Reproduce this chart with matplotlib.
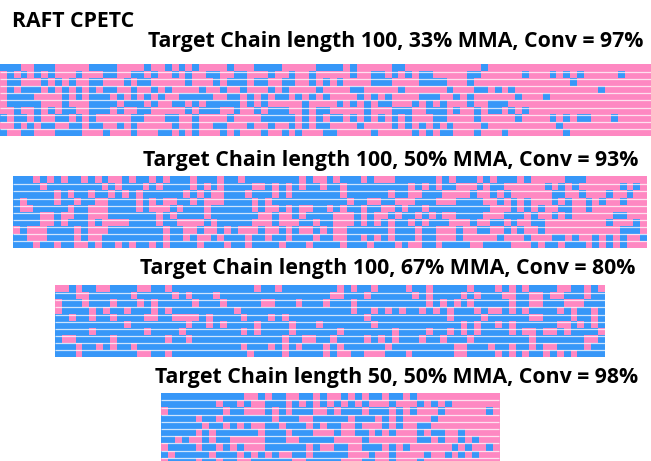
import numpy as np
import matplotlib
matplotlib.use("Agg")
import matplotlib.pyplot as plt
from matplotlib.colors import ListedColormap

# b = MMA (blue), p = comonomer (pink); run lengths along each chain
chains_100_33 = [
    "b3 p2 b3 p5 b4 p4 b1 p2 b1 p1 b1 p1 b1 p4 b1 p3 b4 p5 b4 p1 b1 p5 b2 p11 b1 p24",
    "p1 b1 p1 b1 p1 b1 p1 b1 p3 b1 p3 b2 p2 b2 p1 b1 p2 b1 p1 b1 p2 b2 p2 b2 p3 b1 p2 b1 p2 b1 p5 b1 p2 b2 p1 b1 p1 b1 p1 b2 p5 b2 p6 b1 p3 b1 p1 b1 p1 b1 p5 b1 p4",
    "p1 b2 p3 b1 p1 b1 p1 b1 p2 b2 p3 b1 p1 b2 p5 b1 p3 b1 p1 b3 p1 b2 p2 b2 p2 b1 p1 b1 p1 b1 p4 b3 p4 b4 p3 b1 p14 b1 p11",
    "p1 b1 p1 b3 p1 b1 p1 b1 p1 b1 p1 b1 p1 b2 p2 b1 p2 b1 p1 b1 p4 b1 p2 b1 p2 b1 p3 b1 p1 b1 p4 b1 p4 b2 p5 b1 p6 b1 p3 b2 p1 b1 p1 b1 p12 b1 p7",
    "p1 b4 p4 b1 p1 b1 p1 b3 p1 b1 p1 b1 p1 b1 p1 b1 p2 b5 p2 b2 p1 b1 p1 b1 p1 b2 p1 b1 p1 b1 p1 b1 p4 b1 p1 b1 p1 b1 p4 b3 p2 b1 p1 b1 p6 b1 p3 b1 p15",
    "p1 b5 p3 b1 p3 b4 p1 b3 p1 b1 p2 b2 p1 b1 p1 b5 p1 b1 p1 b1 p5 b1 p4 b1 p1 b1 p1 b1 p1 b2 p3 b1 p1 b1 p1 b1 p3 b1 p2 b3 p21",
    "p2 b1 p2 b1 p1 b1 p1 b2 p2 b3 p1 b1 p2 b2 p5 b1 p1 b3 p2 b1 p2 b1 p1 b3 p2 b1 p1 b2 p5 b1 p3 b3 p2 b3 p1 b1 p2 b1 p1 b2 p1 b1 p1 b1 p18",
    "b1 p1 b2 p1 b1 p2 b2 p1 b1 p1 b1 p5 b2 p3 b2 p2 b1 p4 b1 p4 b5 p1 b1 p1 b1 p1 b2 p1 b1 p1 b1 p1 b1 p1 b1 p1 b1 p3 b2 p4 b1 p5 b1 p4 b1 p1 b1 p1 b2 p3 b1 p5",
    "p2 b1 p1 b1 p1 b2 p2 b2 p1 b2 p2 b1 p1 b1 p5 b1 p2 b1 p2 b2 p3 b1 p2 b1 p2 b1 p1 b1 p1 b2 p4 b1 p4 b1 p1 b1 p1 b1 p1 b1 p1 b1 p4 b1 p10 b1 p13",
    "b1 p2 b2 p3 b4 p3 b1 p3 b1 p3 b2 p1 b1 p1 b1 p3 b1 p1 b1 p3 b1 p2 b1 p1 b1 p3 b2 p5 b1 p5 b1 p1 b1 p1 b2 p3 b1 p3 b1 p8 b1 p12",
]

chains_100_50 = [
    "b3 p1 b1 p1 b1 p1 b2 p1 b1 p1 b1 p2 b1 p1 b2 p1 b1 p1 b3 p1 b3 p1 b2 p1 b8 p1 b1 p2 b1 p1 b3 p1 b1 p3 b6 p1 b1 p1 b3 p1 b1 p1 b3 p1 b1 p5 b3 p9",
    "b4 p1 b8 p1 b1 p1 b3 p1 b1 p1 b4 p1 b1 p1 b1 p1 b4 p2 b1 p1 b1 p1 b1 p1 b2 p1 b2 p1 b9 p1 b1 p1 b1 p1 b2 p3 b1 p1 b2 p6 b1 p1 b1 p1 b1 p6 b1 p1 b1 p1",
    "b6 p1 b1 p1 b2 p1 b2 p1 b1 p1 b1 p1 b6 p1 b1 p1 b1 p2 b3 p1 b3 p1 b1 p1 b7 p1 b6 p1 b2 p2 b3 p4 b1 p2 b1 p1 b1 p6 b2 p2 b1 p3 b1 p2 b1 p2",
    "b1 p1 b4 p1 b2 p1 b2 p2 b4 p1 b1 p1 b1 p2 b2 p1 b1 p3 b4 p1 b1 p1 b11 p1 b2 p2 b2 p3 b3 p3 b4 p2 b1 p1 b1 p1 b1 p3 b1 p1 b1 p2 b1 p1 b1 p2 b1 p3",
    "b1 p2 b5 p1 b2 p3 b4 p1 b1 p3 b1 p1 b3 p1 b6 p1 b1 p2 b1 p1 b1 p2 b2 p1 b1 p1 b2 p1 b2 p2 b1 p1 b2 p1 b9 p3 b1 p1 b1 p1 b1 p2 b2 p2 b1 p8",
    "b4 p2 b1 p2 b2 p3 b7 p1 b1 p1 b4 p1 b7 p2 b1 p2 b1 p1 b4 p3 b1 p1 b1 p2 b1 p1 b2 p1 b1 p1 b1 p2 b4 p3 b3 p1 b1 p2 b1 p1 b1 p6 b2 p3",
    "b4 p2 b1 p1 b3 p1 b1 p4 b4 p1 b2 p4 b1 p1 b5 p3 b1 p3 b2 p1 b2 p3 b1 p1 b1 p1 b1 p1 b2 p1 b1 p1 b3 p3 b1 p2 b2 p1 b1 p2 b2 p9 b1 p3 b1 p1",
    "p1 b1 p3 b4 p1 b1 p3 b8 p1 b2 p2 b1 p2 b1 p1 b1 p3 b1 p2 b1 p1 b1 p2 b1 p1 b1 p2 b6 p1 b3 p1 b2 p3 b1 p2 b2 p2 b1 p1 b1 p2 b1 p11 b3 p1",
    "b2 p3 b4 p1 b1 p2 b9 p1 b2 p1 b1 p2 b1 p1 b3 p1 b2 p1 b2 p1 b3 p1 b2 p2 b2 p1 b1 p1 b1 p1 b3 p1 b2 p3 b1 p5 b1 p3 b1 p3 b2 p1 b1 p2 b1 p1 b1 p1 b1 p2 b1",
    "b3 p1 b2 p1 b2 p2 b1 p1 b2 p1 b1 p1 b2 p1 b1 p1 b4 p1 b3 p1 b2 p1 b4 p1 b3 p1 b4 p1 b3 p1 b3 p1 b1 p2 b2 p1 b4 p2 b4 p3 b1 p1 b2 p1 b3 p1 b1 p1 b1 p1 b1 p3",
]

chains_100_67 = [
    "p2 b1 p1 b2 p2 b4 p2 b2 p1 b12 p1 b2 p1 b8 p1 b1 p1 b2 p1 b4 p1 b2 p1 b5 p1 b3 p1 b1 p1 b1 p1 b4 p2 b2 p1 b1 p1",
    "b3 p2 b6 p1 b5 p1 b1 p1 b3 p1 b16 p2 b3 p1 b6 p1 b1 p1 b4 p1 b1 p1 b3 p2 b2 p2 b1 p2 b3 p1 b2",
    "p1 b3 p1 b3 p1 b3 p1 b1 p1 b5 p1 b3 p1 b5 p2 b3 p1 b3 p1 b3 p1 b10 p1 b1 p1 b1 p1 b1 p1 b5 p1 b2 p2 b3 p3 b3",
    "p1 b4 p1 b1 p1 b2 p1 b3 p1 b1 p1 b9 p1 b16 p1 b2 p1 b1 p1 b1 p1 b2 p1 b1 p1 b1 p1 b3 p1 b1 p2 b1 p1 b1 p1 b4 p1 b1 p1 b2 p1 b1",
    "b2 p1 b2 p1 b2 p1 b4 p2 b2 p4 b1 p1 b4 p1 b3 p1 b1 p1 b11 p1 b11 p1 b4 p1 b6 p2 b4 p1 b2 p1 b1",
    "b10 p1 b8 p1 b2 p1 b1 p1 b4 p1 b4 p1 b3 p1 b7 p1 b12 p1 b1 p1 b2 p1 b1 p1 b6 p2 b1 p1 b1 p1 b1",
    "b5 p1 b7 p1 b4 p1 b8 p1 b1 p1 b4 p1 b6 p1 b7 p1 b4 p1 b2 p1 b1 p1 b1 p1 b4 p1 b1 p2 b1 p2 b1 p1 b4 p1",
    "b1 p2 b5 p1 b7 p1 b2 p1 b13 p1 b2 p2 b2 p1 b4 p1 b1 p1 b1 p1 b3 p1 b2 p1 b3 p1 b8 p1 b7 p2 b1",
    "b3 p1 b2 p1 b1 p1 b2 p1 b15 p1 b3 p1 b1 p1 b1 p1 b3 p1 b1 p1 b6 p1 b9 p2 b3 p1 b2 p1 b2 p1 b1 p2 b4 p1 b2",
    "b3 p1 b8 p2 b2 p1 b11 p1 b4 p1 b5 p1 b1 p2 b2 p3 b3 p1 b6 p2 b4 p1 b1 p1 b1 p1 b2 p1 b1 p1 b1 p1 b4",
]

chains_50_50 = [
    "b12 p2 b1 p1 b2 p2 b2 p1 b1 p2 b1 p1 b1 p1 b2 p1 b2 p1 b1 p12",
    "b8 p1 b2 p1 b1 p2 b3 p1 b1 p1 b1 p1 b1 p1 b1 p1 b1 p1 b1 p3 b1 p3 b1 p1 b1 p1 b1 p7",
    "p1 b8 p1 b2 p3 b1 p1 b1 p1 b3 p2 b1 p1 b3 p1 b3 p1 b1 p1 b1 p3 b1 p6 b1 p1",
    "b5 p1 b2 p1 b7 p1 b3 p2 b5 p1 b3 p1 b1 p1 b1 p4 b1 p9",
    "b6 p1 b2 p1 b1 p1 b1 p2 b2 p1 b3 p1 b1 p1 b2 p2 b1 p3 b1 p1 b1 p2 b2 p10",
    "b5 p1 b1 p1 b6 p1 b3 p1 b3 p3 b1 p2 b2 p1 b1 p1 b1 p3 b1 p1 b2 p2 b1 p5",
    "b2 p1 b1 p2 b1 p1 b2 p5 b3 p2 b5 p4 b1 p7 b2 p1 b1 p2 b1 p1 b1 p3",
    "p1 b4 p1 b2 p1 b1 p1 b1 p3 b6 p1 b1 p2 b2 p2 b3 p1 b1 p1 b1 p6 b1 p1 b1 p2 b1 p1",
    "b1 p1 b5 p1 b3 p1 b1 p1 b1 p1 b1 p2 b2 p1 b5 p3 b1 p2 b1 p4 b1 p2 b1 p1 b1 p1 b1 p3",
    "p1 b4 p1 b2 p1 b2 p2 b6 p2 b5 p3 b2 p2 b1 p3 b1 p11",
]

titles = [
    "Target Chain length 100, 33% MMA, Conv = 97%",
    "Target Chain length 100, 50% MMA, Conv = 93%",
    "Target Chain length 100, 67% MMA, Conv = 80%",
    "Target Chain length 50, 50% MMA, Conv = 98%",
]

BLUE = "#3797f8"
PINK = "#fe88c2"


def decode(row):
    out = []
    for tok in row.split():
        out += [1 if tok[0] == "b" else 0] * int(tok[1:])
    return out


fig = plt.figure(figsize=(6.51, 4.61), dpi=100)
ax = fig.add_axes([0, 0, 1, 1])
ax.set_xlim(0, 651)
ax.set_ylim(461, 0)
ax.axis("off")

cmap = ListedColormap([PINK, BLUE])

# (left, cell width, top, row height, title left edge, title baseline)
layout = [
    (0.0, 6.87, 65.0, 7.1, 148, 46.5),
    (13.3, 6.81, 177.3, 7.1, 143, 165.7),
    (55.0, 6.875, 286.0, 7.13, 140, 274),
    (161.0, 6.9, 393.3, 7.17, 155, 383),
]

for chains, title, (x0, w, y0, h, tx, ty) in zip(
        [chains_100_33, chains_100_50, chains_100_67, chains_50_50], titles, layout):
    grid = np.array([decode(r) for r in chains])
    nr, nc = grid.shape
    ax.imshow(grid, cmap=cmap, vmin=0, vmax=1, interpolation="nearest",
              aspect="auto", extent=(x0, x0 + nc * w, y0 + nr * h, y0))
    ax.hlines(y0 + h * np.arange(1, nr), x0, x0 + nc * w, color="white",
              lw=0.9, alpha=0.75)
    ax.text(tx, ty, title, ha="left", va="baseline", fontsize=15.3,
            fontweight="bold", family="Open Sans")

ax.text(12, 26.7, "RAFT CPETC", ha="left", va="baseline", fontsize=15.3,
        fontweight="bold", family="Open Sans")

fig.savefig("out.png", dpi=100)
